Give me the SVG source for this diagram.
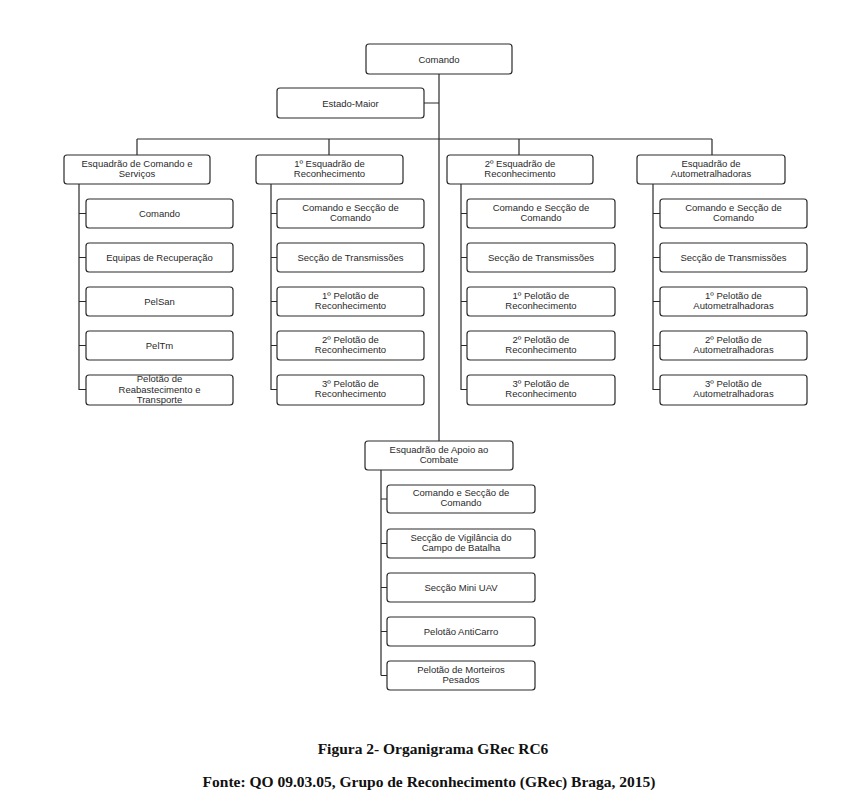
<svg xmlns="http://www.w3.org/2000/svg" width="852" height="800" viewBox="0 0 852 800">
<style>
.b{fill:#fff;stroke:#2a2a2a;stroke-width:1.2}
.t{font-family:"Liberation Sans",Arial,sans-serif;font-size:9.5px;fill:#2a2a2a;text-anchor:middle}
.c{stroke:#2a2a2a;stroke-width:1.2;fill:none}
.cap{font-family:"Liberation Serif","Times New Roman",serif;font-size:15.5px;font-weight:bold;fill:#111;text-anchor:middle}
</style>
<rect width="852" height="800" fill="#fff"/>
<g id="connectors">
<path class="c" d="M439 74V441M424 103H439M137 139H712M137 139V155M329 139V155M519 139V155M712 139V155"/>
<path class="c" d="M79 184V390M79 213.5H86M79 257.5H86M79 301.5H86M79 345.5H86M79 389.5H86"/>
<path class="c" d="M271 184V390M271 213.5H277M271 257.5H277M271 301.5H277M271 345.5H277M271 389.5H277"/>
<path class="c" d="M461 184V390M461 213.5H467M461 257.5H467M461 301.5H467M461 345.5H467M461 389.5H467"/>
<path class="c" d="M653 184V390M653 213.5H660M653 257.5H660M653 301.5H660M653 345.5H660M653 389.5H660"/>
<path class="c" d="M381 470V675.5M381 499H387M381 543.5H387M381 587.5H387M381 631.5H387M381 675.5H387"/>
</g>
<g id="comando"><rect class="b" x="366" y="44" width="146" height="30" rx="3"/><text class="t" x="439" y="62.5">Comando</text></g>
<g id="estado-maior"><rect class="b" x="277" y="88" width="147" height="30" rx="3"/><text class="t" x="350.5" y="106.5">Estado-Maior</text></g>

<g id="ecs"><rect class="b" x="64" y="155" width="146" height="29" rx="3"/><text class="t" x="137" y="166.5">Esquadrão de Comando e</text><text class="t" x="137" y="176.5">Serviços</text></g>
<g id="ecs1"><rect class="b" x="86" y="199" width="147" height="29" rx="3"/><text class="t" x="159.5" y="217">Comando</text></g>
<g id="ecs2"><rect class="b" x="86" y="243" width="147" height="29" rx="3"/><text class="t" x="159.5" y="261">Equipas de Recuperação</text></g>
<g id="ecs3"><rect class="b" x="86" y="287" width="147" height="29" rx="3"/><text class="t" x="159.5" y="305">PelSan</text></g>
<g id="ecs4"><rect class="b" x="86" y="331" width="147" height="29" rx="3"/><text class="t" x="159.5" y="349">PelTm</text></g>
<g id="ecs5"><rect class="b" x="86" y="375" width="147" height="30" rx="3"/><text class="t" x="159.5" y="382">Pelotão de</text><text class="t" x="159.5" y="392.5">Reabastecimento e</text><text class="t" x="159.5" y="403">Transporte</text></g>

<g id="e1"><rect class="b" x="256" y="155" width="147" height="29" rx="3"/><text class="t" x="329.5" y="166.5">1º Esquadrão de</text><text class="t" x="329.5" y="176.5">Reconhecimento</text></g>
<g id="e1a"><rect class="b" x="277" y="199" width="147" height="29" rx="3"/><text class="t" x="350.5" y="210.5">Comando e Secção de</text><text class="t" x="350.5" y="220.5">Comando</text></g>
<g id="e1b"><rect class="b" x="277" y="243" width="147" height="29" rx="3"/><text class="t" x="350.5" y="261">Secção de Transmissões</text></g>
<g id="e1c"><rect class="b" x="277" y="287" width="147" height="29" rx="3"/><text class="t" x="350.5" y="298.5">1º Pelotão de</text><text class="t" x="350.5" y="308.5">Reconhecimento</text></g>
<g id="e1d"><rect class="b" x="277" y="331" width="147" height="29" rx="3"/><text class="t" x="350.5" y="342.5">2º Pelotão de</text><text class="t" x="350.5" y="352.5">Reconhecimento</text></g>
<g id="e1e"><rect class="b" x="277" y="375" width="147" height="30" rx="3"/><text class="t" x="350.5" y="386.5">3º Pelotão de</text><text class="t" x="350.5" y="396.5">Reconhecimento</text></g>

<g id="e2"><rect class="b" x="447" y="155" width="146" height="29" rx="3"/><text class="t" x="520" y="166.5">2º Esquadrão de</text><text class="t" x="520" y="176.5">Reconhecimento</text></g>
<g id="e2a"><rect class="b" x="467" y="199" width="148" height="29" rx="3"/><text class="t" x="541" y="210.5">Comando e Secção de</text><text class="t" x="541" y="220.5">Comando</text></g>
<g id="e2b"><rect class="b" x="467" y="243" width="148" height="29" rx="3"/><text class="t" x="541" y="261">Secção de Transmissões</text></g>
<g id="e2c"><rect class="b" x="467" y="287" width="148" height="29" rx="3"/><text class="t" x="541" y="298.5">1º Pelotão de</text><text class="t" x="541" y="308.5">Reconhecimento</text></g>
<g id="e2d"><rect class="b" x="467" y="331" width="148" height="29" rx="3"/><text class="t" x="541" y="342.5">2º Pelotão de</text><text class="t" x="541" y="352.5">Reconhecimento</text></g>
<g id="e2e"><rect class="b" x="467" y="375" width="148" height="30" rx="3"/><text class="t" x="541" y="386.5">3º Pelotão de</text><text class="t" x="541" y="396.5">Reconhecimento</text></g>

<g id="ea"><rect class="b" x="637" y="155" width="148" height="29" rx="3"/><text class="t" x="711" y="166.5">Esquadrão de</text><text class="t" x="711" y="176.5">Autometralhadoras</text></g>
<g id="eaa"><rect class="b" x="660" y="199" width="147" height="29" rx="3"/><text class="t" x="733.5" y="210.5">Comando e Secção de</text><text class="t" x="733.5" y="220.5">Comando</text></g>
<g id="eab"><rect class="b" x="660" y="243" width="147" height="29" rx="3"/><text class="t" x="733.5" y="261">Secção de Transmissões</text></g>
<g id="eac"><rect class="b" x="660" y="287" width="147" height="29" rx="3"/><text class="t" x="733.5" y="298.5">1º Pelotão de</text><text class="t" x="733.5" y="308.5">Autometralhadoras</text></g>
<g id="ead"><rect class="b" x="660" y="331" width="147" height="29" rx="3"/><text class="t" x="733.5" y="342.5">2º Pelotão de</text><text class="t" x="733.5" y="352.5">Autometralhadoras</text></g>
<g id="eae"><rect class="b" x="660" y="375" width="147" height="30" rx="3"/><text class="t" x="733.5" y="386.5">3º Pelotão de</text><text class="t" x="733.5" y="396.5">Autometralhadoras</text></g>

<g id="eac0"><rect class="b" x="365" y="441" width="148" height="29" rx="3"/><text class="t" x="439" y="452.5">Esquadrão de Apoio ao</text><text class="t" x="439" y="462.5">Combate</text></g>
<g id="eac1"><rect class="b" x="387" y="485" width="148" height="28" rx="3"/><text class="t" x="461" y="496">Comando e Secção de</text><text class="t" x="461" y="506">Comando</text></g>
<g id="eac2"><rect class="b" x="387" y="529" width="148" height="29" rx="3"/><text class="t" x="461" y="540.5">Secção de Vigilância do</text><text class="t" x="461" y="550.5">Campo de Batalha</text></g>
<g id="eac3"><rect class="b" x="387" y="573" width="148" height="29" rx="3"/><text class="t" x="461" y="591">Secção Mini UAV</text></g>
<g id="eac4"><rect class="b" x="387" y="617" width="148" height="29" rx="3"/><text class="t" x="461" y="635">Pelotão AntiCarro</text></g>
<g id="eac5"><rect class="b" x="387" y="661" width="148" height="29" rx="3"/><text class="t" x="461" y="672.5">Pelotão de Morteiros</text><text class="t" x="461" y="682.5">Pesados</text></g>

<text class="cap" x="433" y="754">Figura 2- Organigrama GRec RC6</text>
<text class="cap" x="429" y="787">Fonte: QO 09.03.05, Grupo de Reconhecimento (GRec) Braga, 2015)</text>
</svg>
